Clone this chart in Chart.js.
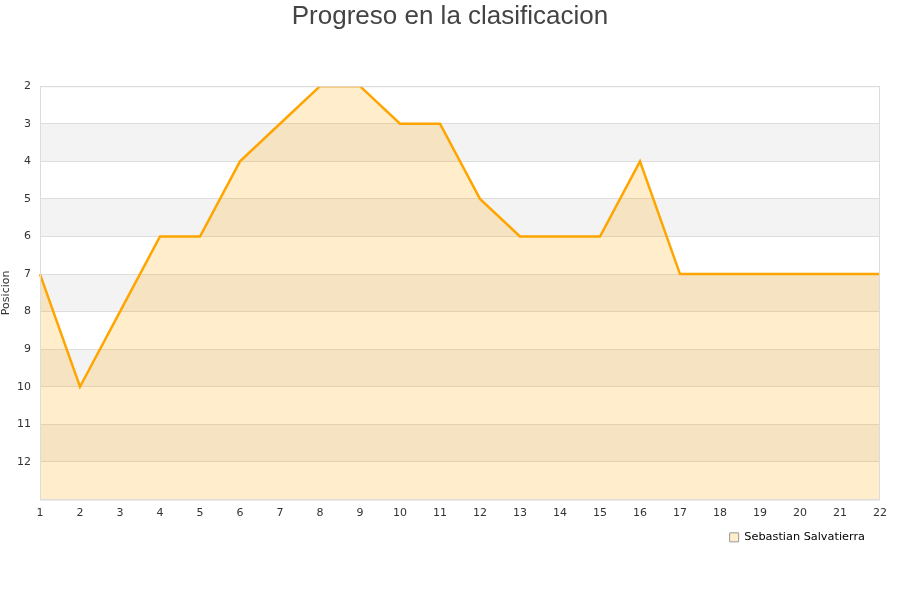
<!DOCTYPE html>
<html>
<head>
<meta charset="utf-8">
<script src="https://cdn.jsdelivr.net/npm/chart.js@4"></script>
<style>
  html, body { margin: 0; padding: 0; background: #fff; }
  #wrap { width: 900px; height: 600px; }
</style>
</head>
<body>
<div id="wrap"><canvas id="posChart"></canvas></div>
<script>
// Jornadas (x) y posicion en la tabla (y)
const jornadas = ['1','2','3','4','5','6','7','8','9','10','11','12','13','14','15','16','17','18','19','20','21','22'];
const posiciones = [7, 10, 8, 6, 6, 4, 3, 2, 2, 3, 3, 5, 6, 6, 6, 4, 7, 7, 7, 7, 7, 7];
const jugador = 'Sebastian Salvatierra';
const posMin = 2;
const posMax = 13;

// Alternating bands + box round the plot area
const bandsPlugin = {
    id: 'bands',
    afterLayout(chart) {
        // pull the legend in a bit from the right edge of the plot
        if (chart.legend) chart.legend.right = chart.chartArea.right - 10;
    },
    beforeDraw(chart) {
        const { ctx, chartArea: a, scales: { y } } = chart;
        ctx.save();
        for (let v = posMin; v < posMax; v++) {
            if ((v - posMin) % 2 === 1) {
                const t = y.getPixelForValue(v);
                const b = y.getPixelForValue(v + 1);
                ctx.fillStyle = '#f3f3f3';
                ctx.fillRect(a.left, t, a.right - a.left, b - t);
            }
        }
        ctx.restore();
    },
    afterDraw(chart) {
        const { ctx, chartArea: a } = chart;
        ctx.save();
        ctx.strokeStyle = '#dcdcdc';
        ctx.lineWidth = 1;
        ctx.strokeRect(a.left + 0.5, a.top + 0.5, a.right - a.left - 1, a.bottom - a.top);
        ctx.restore();
    }
};

const canvas = document.getElementById('posChart');
new Chart(canvas, {
    type: 'line',
    data: {
        labels: jornadas,
        datasets: [{
            label: jugador,
            data: posiciones,
            borderColor: '#ffa500',
            backgroundColor: 'rgba(255, 165, 0, 0.2)',
            borderWidth: 2.5,
            pointRadius: 0,
            tension: 0,
            fill: 'start'
        }]
    },
    options: {
        responsive: true,
        maintainAspectRatio: false,
        animation: false,
        layout: { padding: { left: 0, right: 0, top: 0, bottom: 47 } },
        plugins: {
            title: {
                display: true,
                text: 'Progreso en la clasificacion',
                color: '#444',
                font: { family: 'Liberation Sans', size: 26, weight: 'normal' },
                padding: { top: 1, bottom: 54 }
            },
            legend: {
                position: 'bottom',
                align: 'end',
                fullSize: false,
                labels: {
                    color: '#222',
                    font: { family: 'DejaVu Sans', size: 11.3 },
                    boxWidth: 9,
                    boxHeight: 9,
                    padding: 5,
                    generateLabels: (chart) => [{
                        text: jugador,
                        fillStyle: '#ffeecc',
                        strokeStyle: '#999',
                        lineWidth: 1,
                        datasetIndex: 0
                    }]
                }
            },
            tooltip: { enabled: false }
        },
        scales: {
            x: {
                offset: false,
                grid: { display: false, drawTicks: false },
                border: { display: false },
                ticks: {
                    color: '#333',
                    font: { family: 'DejaVu Sans', size: 11 },
                    maxRotation: 0,
                    autoSkip: false,
                    padding: 7
                }
            },
            y: {
                reverse: true,
                min: posMin,
                max: posMax,
                afterFit: (s) => { s.width = 40; },
                grid: { color: '#dddddd', drawTicks: false },
                border: { display: false },
                title: {
                    display: true,
                    text: 'Posicion',
                    color: '#333',
                    font: { family: 'DejaVu Sans', size: 11 },
                    padding: 0
                },
                ticks: {
                    stepSize: 1,
                    color: '#333',
                    padding: 9,
                    font: { family: 'DejaVu Sans', size: 11 },
                    callback: (v) => (v === posMax ? '' : v)
                }
            },
            // empty strip on the right so the plot ends at 880
            right: {
                type: 'linear',
                position: 'right',
                afterFit: (s) => { s.width = 20; },
                grid: { display: false },
                border: { display: false },
                ticks: { display: false }
            }
        }
    },
    plugins: [bandsPlugin]
});
</script>
</body>
</html>
